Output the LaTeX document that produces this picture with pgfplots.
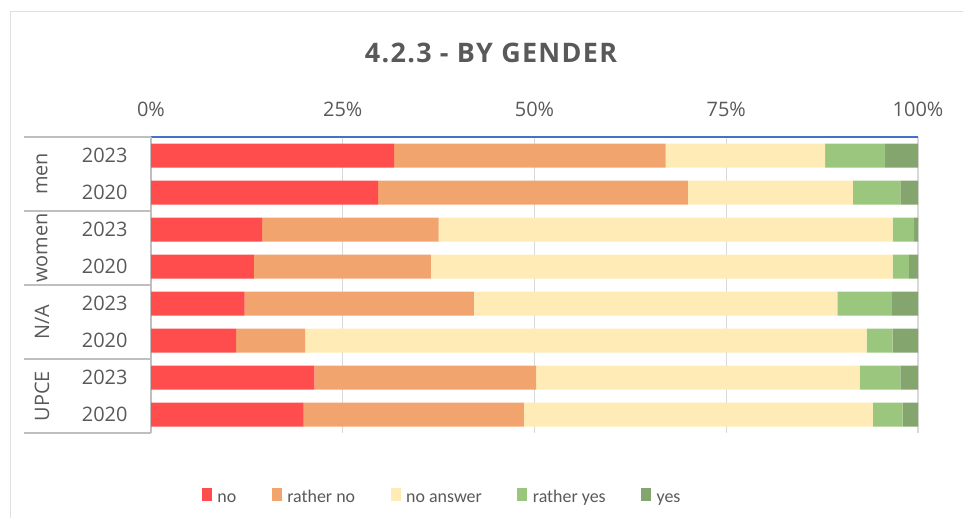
\documentclass[border=0pt]{standalone}
\usepackage{fontspec}
\setmainfont{Open Sans}
\newfontfamily\titlefont[LetterSpace=5]{Open Sans}
\newfontfamily\legfont{Carlito}
\usepackage{pgfplots}
\usepackage{pgfplotstable}
\pgfplotsset{compat=1.18}
\definecolor{cno}{HTML}{FF4D4D}
\definecolor{crno}{HTML}{F2A46E}
\definecolor{cna}{HTML}{FEEBB6}
\definecolor{cryes}{HTML}{9BC67D}
\definecolor{cyes}{HTML}{85A56E}
\definecolor{txt}{HTML}{595959}
\definecolor{gridc}{HTML}{D9D9D9}
\definecolor{sepc}{HTML}{BFBFBF}
\definecolor{axblue}{HTML}{4472C4}
\pgfplotstableread{
y no rno na ryes yes
1 31.7 35.4 20.8 7.8 4.3
2 29.6 40.4 21.5 6.2 2.3
3 14.5 23.0 59.2 2.8 0.5
4 13.4 23.1 60.2 2.1 1.2
5 12.2 29.9 47.4 7.1 3.4
6 11.1 9.0 73.2 3.4 3.3
7 21.3 28.9 42.2 5.3 2.3
8 19.9 28.7 45.5 3.9 2.0
}\data
\begin{document}
\begin{tikzpicture}
\path[use as bounding box] (0,0) rectangle (963bp,518bp);
\draw[color=black!12, line width=1bp] (10.5bp,0) -- (10.5bp,506bp) -- (963bp,506bp);
\node[font=\titlefont\bfseries\fontsize{27}{32}\selectfont, text=txt] at (491bp,465bp) {4.2.3 - BY GENDER};
\begin{axis}[
  at={(151bp,85bp)}, anchor=south west,
  width=767bp, height=296bp, scale only axis,
  clip=false,
  xbar stacked, bar width=24bp,
  xmin=0, xmax=100, ymin=0.5, ymax=8.5, y dir=reverse,
  axis x line*=top, axis y line*=left,
  x axis line style={draw=axblue, line width=1.5bp, -},
  y axis line style={draw=sepc, line width=1.5bp, -},
  xtick={0,25,50,75,100}, xticklabels={0\%,25\%,50\%,75\%,100\%},
  ytick={1,2,3,4,5,6,7,8}, yticklabels={2023,2020,2023,2020,2023,2020,2023,2020},
  major tick length=0pt, tick style={draw=none},
  xmajorgrids, grid style={draw=gridc, line width=1.2bp},
  ticklabel style={font=\fontsize{20}{24}\selectfont, text=txt},
  xticklabel style={yshift=17bp},
  yticklabel style={xshift=-20bp},
  legend columns=5,
  legend style={at={(0.380,-0.222)}, anchor=center, draw=none, fill=none,
    font=\legfont\fontsize{18}{22}\selectfont, text=txt,
    /tikz/every even column/.append style={column sep=33bp},
    /tikz/every odd column/.append style={column sep=3bp},
    nodes={inner sep=2.5bp, text height=12bp, text depth=4bp}},
  legend image code/.code={\fill[#1] (0bp,-2bp) rectangle (10bp,10.5bp);},
]
\addplot[fill=cno, draw=none] table[x=no, y=y] {\data};
\addplot[fill=crno, draw=none] table[x=rno, y=y] {\data};
\addplot[fill=cna, draw=none] table[x=na, y=y] {\data};
\addplot[fill=cryes, draw=none] table[x=ryes, y=y] {\data};
\addplot[fill=cyes, draw=none] table[x=yes, y=y] {\data};
\legend{no, rather no, no answer, rather yes, yes}
\draw[sepc, line width=1.5bp] ([xshift=-127bp]axis cs:0,0.5) -- (axis cs:0,0.5);
\draw[sepc, line width=1.5bp] ([xshift=-127bp]axis cs:0,2.5) -- (axis cs:0,2.5);
\draw[sepc, line width=1.5bp] ([xshift=-127bp]axis cs:0,4.5) -- (axis cs:0,4.5);
\draw[sepc, line width=1.5bp] ([xshift=-127bp]axis cs:0,6.5) -- (axis cs:0,6.5);
\draw[sepc, line width=1.5bp] ([xshift=-127bp]axis cs:0,8.5) -- (axis cs:0,8.5);
\node[rotate=90, font=\fontsize{20}{24}\selectfont, text=txt] at ([xshift=-109bp]axis cs:0,1.5) {men};
\node[rotate=90, font=\fontsize{20}{24}\selectfont, text=txt] at ([xshift=-109bp]axis cs:0,3.5) {women};
\node[rotate=90, font=\fontsize{20}{24}\selectfont, text=txt] at ([xshift=-109bp]axis cs:0,5.5) {N/A};
\node[rotate=90, font=\fontsize{20}{24}\selectfont, text=txt] at ([xshift=-109bp]axis cs:0,7.5) {UPCE};
\end{axis}
\end{tikzpicture}
\end{document}
